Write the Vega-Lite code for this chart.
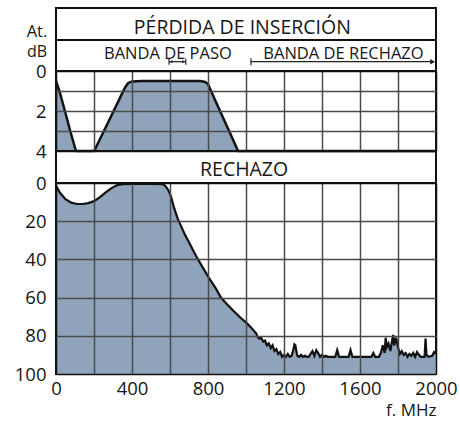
{
  "$schema": "https://vega.github.io/schema/vega-lite/v6.json",
  "padding": {"left": 13, "top": 7, "right": 5, "bottom": 0},
  "bounds": "flush",
  "spacing": 0,
  "config": {
    "font": "Open Sans",
    "view": {"stroke": "#111111", "strokeWidth": 2},
    "concat": {"spacing": 0},
    "text": {"color": "#161616"},
    "axis": {
      "labelFont": "Open Sans",
      "labelFontSize": 18.5,
      "labelColor": "#161616",
      "domain": false,
      "ticks": false,
      "gridColor": "#4a4a4a",
      "gridWidth": 1.5,
      "gridOpacity": 1,
      "labelFlush": false,
      "labelOverlap": false,
      "title": null
    }
  },
  "datasets": {
    "loss": [
      {"f": 0, "db": 0.5}, {"f": 18, "db": 1}, {"f": 47, "db": 2}, {"f": 75, "db": 3}, {"f": 105, "db": 4},
      {"f": 201, "db": 4}, {"f": 240, "db": 3.24}, {"f": 290, "db": 2.26}, {"f": 340, "db": 1.28},
      {"f": 365, "db": 0.8}, {"f": 380, "db": 0.6}, {"f": 400, "db": 0.52}, {"f": 450, "db": 0.5},
      {"f": 600, "db": 0.5}, {"f": 760, "db": 0.5}, {"f": 785, "db": 0.55}, {"f": 800, "db": 0.65},
      {"f": 830, "db": 1.3}, {"f": 880, "db": 2.35}, {"f": 930, "db": 3.4}, {"f": 958, "db": 4}, {"f": 2000, "db": 4}
    ],
    "rej": [
      {"f": 0, "db": 1.5}, {"f": 20, "db": 5}, {"f": 50, "db": 8.5}, {"f": 80, "db": 10.3}, {"f": 110, "db": 11},
      {"f": 140, "db": 11}, {"f": 170, "db": 10.5}, {"f": 200, "db": 9.5}, {"f": 230, "db": 7.5}, {"f": 260, "db": 5},
      {"f": 290, "db": 2.8}, {"f": 320, "db": 1.2}, {"f": 350, "db": 0.6}, {"f": 400, "db": 0.5}, {"f": 500, "db": 0.5},
      {"f": 560, "db": 0.6}, {"f": 575, "db": 1.5}, {"f": 590, "db": 3.5}, {"f": 605, "db": 7}, {"f": 620, "db": 12.5},
      {"f": 640, "db": 18.5}, {"f": 660, "db": 23}, {"f": 680, "db": 27.3}, {"f": 700, "db": 31}, {"f": 720, "db": 35},
      {"f": 747, "db": 40}, {"f": 780, "db": 45.5}, {"f": 810, "db": 50.5}, {"f": 840, "db": 55}, {"f": 868, "db": 60},
      {"f": 900, "db": 63.5}, {"f": 932, "db": 66.8}, {"f": 974, "db": 70.8}, {"f": 1000, "db": 73}, {"f": 1030, "db": 76},
      {"f": 1055, "db": 79}, {"f": 1060, "db": 80.5}, {"f": 1070, "db": 81.5}, {"f": 1080, "db": 81}, {"f": 1090, "db": 83},
      {"f": 1100, "db": 82.5}, {"f": 1110, "db": 85}, {"f": 1120, "db": 84}, {"f": 1130, "db": 86.5}, {"f": 1140, "db": 85},
      {"f": 1150, "db": 88}, {"f": 1160, "db": 87}, {"f": 1170, "db": 89.5}, {"f": 1180, "db": 88.5}, {"f": 1190, "db": 91},
      {"f": 1200, "db": 90}, {"f": 1210, "db": 91}, {"f": 1220, "db": 89.5}, {"f": 1230, "db": 91}, {"f": 1240, "db": 90.5},
      {"f": 1250, "db": 87}, {"f": 1255, "db": 84.5}, {"f": 1260, "db": 85}, {"f": 1265, "db": 88}, {"f": 1270, "db": 90.5},
      {"f": 1280, "db": 91}, {"f": 1290, "db": 90}, {"f": 1300, "db": 91}, {"f": 1310, "db": 90.5}, {"f": 1320, "db": 91},
      {"f": 1330, "db": 91}, {"f": 1340, "db": 89.5}, {"f": 1350, "db": 88}, {"f": 1360, "db": 90.5}, {"f": 1370, "db": 87.5},
      {"f": 1380, "db": 89}, {"f": 1390, "db": 91}, {"f": 1400, "db": 90}, {"f": 1410, "db": 91}, {"f": 1420, "db": 90.5},
      {"f": 1430, "db": 91}, {"f": 1470, "db": 91}, {"f": 1480, "db": 87.5}, {"f": 1490, "db": 91}, {"f": 1540, "db": 91},
      {"f": 1550, "db": 87.5}, {"f": 1560, "db": 91}, {"f": 1660, "db": 91}, {"f": 1670, "db": 89}, {"f": 1680, "db": 91},
      {"f": 1700, "db": 91}, {"f": 1710, "db": 89}, {"f": 1720, "db": 85}, {"f": 1730, "db": 89}, {"f": 1735, "db": 81},
      {"f": 1740, "db": 86}, {"f": 1750, "db": 84}, {"f": 1760, "db": 88}, {"f": 1770, "db": 82}, {"f": 1775, "db": 79.5},
      {"f": 1780, "db": 85}, {"f": 1790, "db": 81}, {"f": 1800, "db": 86}, {"f": 1810, "db": 89.5}, {"f": 1820, "db": 88},
      {"f": 1830, "db": 90}, {"f": 1840, "db": 89}, {"f": 1850, "db": 91}, {"f": 1860, "db": 89.5}, {"f": 1870, "db": 90.5},
      {"f": 1880, "db": 89}, {"f": 1890, "db": 91}, {"f": 1900, "db": 88.5}, {"f": 1910, "db": 90}, {"f": 1920, "db": 91},
      {"f": 1940, "db": 91}, {"f": 1945, "db": 81.5}, {"f": 1950, "db": 90}, {"f": 1960, "db": 91}, {"f": 1980, "db": 90.5},
      {"f": 1990, "db": 88.5}, {"f": 2000, "db": 89.5}
    ]
  },
  "vconcat": [
    {
      "width": 380, "height": 32,
      "data": {"values": [{}]},
      "layer": [
        {
          "mark": {"type": "text", "fontSize": 19.5, "text": "PÉRDIDA DE INSERCIÓN"},
          "encoding": {
            "x": {"datum": 981, "type": "quantitative", "scale": {"domain": [0, 2000]}, "axis": null},
            "y": {"datum": 0.385, "type": "quantitative", "scale": {"domain": [0, 1]}, "axis": null}
          }
        },
        {
          "mark": {"type": "text", "fontSize": 16.5, "text": "At."},
          "encoding": {
            "x": {"datum": -100, "type": "quantitative"},
            "y": {"datum": 0.24, "type": "quantitative"}
          }
        }
      ]
    },
    {
      "width": 380, "height": 31,
      "data": {"values": [{}]},
      "layer": [
        {
          "mark": {"type": "text", "fontSize": 16.5, "text": "BANDA DE PASO"},
          "encoding": {
            "x": {"datum": 589, "type": "quantitative", "scale": {"domain": [0, 2000]}, "axis": null},
            "y": {"datum": 0.55, "type": "quantitative", "scale": {"domain": [0, 1]}, "axis": null}
          }
        },
        {
          "mark": {"type": "text", "fontSize": 16.5, "text": "BANDA DE RECHAZO"},
          "encoding": {
            "x": {"datum": 1513, "type": "quantitative"},
            "y": {"datum": 0.55, "type": "quantitative"}
          }
        },
        {
          "mark": {"type": "text", "fontSize": 16, "text": "dB"},
          "encoding": {
            "x": {"datum": -100, "type": "quantitative"},
            "y": {"datum": 0.6, "type": "quantitative"}
          }
        },
        {
          "mark": {"type": "rule", "color": "#222222", "strokeWidth": 1.2},
          "encoding": {
            "x": {"datum": 1026, "type": "quantitative"},
            "x2": {"datum": 1990},
            "y": {"datum": 0.3, "type": "quantitative"}
          }
        },
        {
          "mark": {"type": "rule", "color": "#222222", "strokeWidth": 1.2},
          "encoding": {
            "x": {"datum": 595, "type": "quantitative"},
            "x2": {"datum": 683},
            "y": {"datum": 0.3, "type": "quantitative"}
          }
        },
        {
          "mark": {"type": "point", "shape": "M0,-1L0,1", "size": 49, "stroke": "#222222", "strokeWidth": 1.2, "opacity": 1},
          "encoding": {
            "x": {"datum": 1026, "type": "quantitative"},
            "y": {"datum": 0.3, "type": "quantitative"}
          }
        },
        {
          "mark": {"type": "point", "shape": "M0,-1L0,1", "size": 36, "stroke": "#222222", "strokeWidth": 1.2, "opacity": 1},
          "encoding": {
            "x": {"datum": 595, "type": "quantitative"},
            "y": {"datum": 0.3, "type": "quantitative"}
          }
        },
        {
          "mark": {"type": "point", "shape": "M0,-1L0,1", "size": 36, "stroke": "#222222", "strokeWidth": 1.2, "opacity": 1},
          "encoding": {
            "x": {"datum": 683, "type": "quantitative"},
            "y": {"datum": 0.3, "type": "quantitative"}
          }
        },
        {
          "mark": {"type": "point", "shape": "triangle-right", "size": 30, "filled": true, "color": "#222222", "opacity": 1},
          "encoding": {
            "x": {"datum": 1982, "type": "quantitative"},
            "y": {"datum": 0.3, "type": "quantitative"}
          }
        },
        {
          "mark": {"type": "point", "shape": "triangle-right", "size": 10, "filled": true, "color": "#222222", "opacity": 1},
          "encoding": {
            "x": {"datum": 672, "type": "quantitative"},
            "y": {"datum": 0.3, "type": "quantitative"}
          }
        },
        {
          "mark": {"type": "point", "shape": "triangle-left", "size": 10, "filled": true, "color": "#222222", "opacity": 1},
          "encoding": {
            "x": {"datum": 606, "type": "quantitative"},
            "y": {"datum": 0.3, "type": "quantitative"}
          }
        }
      ]
    },
    {
      "width": 380, "height": 80,
      "data": {"name": "loss"},
      "encoding": {
        "x": {
          "field": "f", "type": "quantitative",
          "scale": {"domain": [0, 2000], "nice": false},
          "axis": {
            "values": [0, 200, 400, 600, 800, 1000, 1200, 1400, 1600, 1800, 2000],
            "labels": false, "grid": true, "zindex": 1,
            "gridColor": {"condition": {"test": "datum.value == 0 || datum.value == 2000", "value": "#111111"}, "value": "#4a4a4a"}
          }
        },
        "y": {
          "field": "db", "type": "quantitative",
          "scale": {"domain": [0, 4], "reverse": true, "nice": false},
          "axis": {
            "values": [0, 1, 2, 3, 4], "grid": true, "zindex": 1, "labelPadding": 10,
            "labelExpr": "datum.value % 2 == 0 ? datum.label : ''",
            "gridColor": {"condition": {"test": "datum.value == 0 || datum.value == 4", "value": "#111111"}, "value": "#4a4a4a"}
          }
        }
      },
      "layer": [
        {"mark": {"type": "area", "color": "#8fa4ba", "opacity": 1}, "encoding": {"y2": {"datum": 4}}},
        {"mark": {"type": "line", "color": "#111111", "strokeWidth": 2.5}}
      ]
    },
    {
      "width": 380, "height": 32,
      "data": {"values": [{}]},
      "mark": {"type": "text", "fontSize": 19.5, "text": "RECHAZO"},
      "encoding": {
        "x": {"datum": 990, "type": "quantitative", "scale": {"domain": [0, 2000]}, "axis": null},
        "y": {"datum": 0.42, "type": "quantitative", "scale": {"domain": [0, 1]}, "axis": null}
      }
    },
    {
      "width": 380, "height": 191,
      "data": {"name": "rej"},
      "encoding": {
        "x": {
          "field": "f", "type": "quantitative",
          "scale": {"domain": [0, 2000], "nice": false},
          "axis": {
            "values": [0, 200, 400, 600, 800, 1000, 1200, 1400, 1600, 1800, 2000],
            "grid": true, "zindex": 1, "labelPadding": 5, "format": "d",
            "labelExpr": "datum.value % 400 == 0 ? datum.label : ''",
            "title": "f. MHz", "titleAnchor": "end", "titleFontSize": 17, "titleFontWeight": "normal",
            "titleColor": "#161616", "titlePadding": 5, "titleFont": "Open Sans",
            "gridColor": {"condition": {"test": "datum.value == 0 || datum.value == 2000", "value": "#111111"}, "value": "#4a4a4a"}
          }
        },
        "y": {
          "field": "db", "type": "quantitative",
          "scale": {"domain": [0, 100], "reverse": true, "nice": false},
          "axis": {
            "values": [0, 20, 40, 60, 80, 100], "grid": true, "zindex": 1, "labelPadding": 10,
            "gridColor": {"condition": {"test": "datum.value == 0 || datum.value == 100", "value": "#111111"}, "value": "#4a4a4a"}
          }
        }
      },
      "layer": [
        {"mark": {"type": "area", "color": "#8fa4ba", "opacity": 1}, "encoding": {"y2": {"datum": 100}}},
        {"mark": {"type": "line", "color": "#111111", "strokeWidth": 2.2}}
      ]
    }
  ]
}
